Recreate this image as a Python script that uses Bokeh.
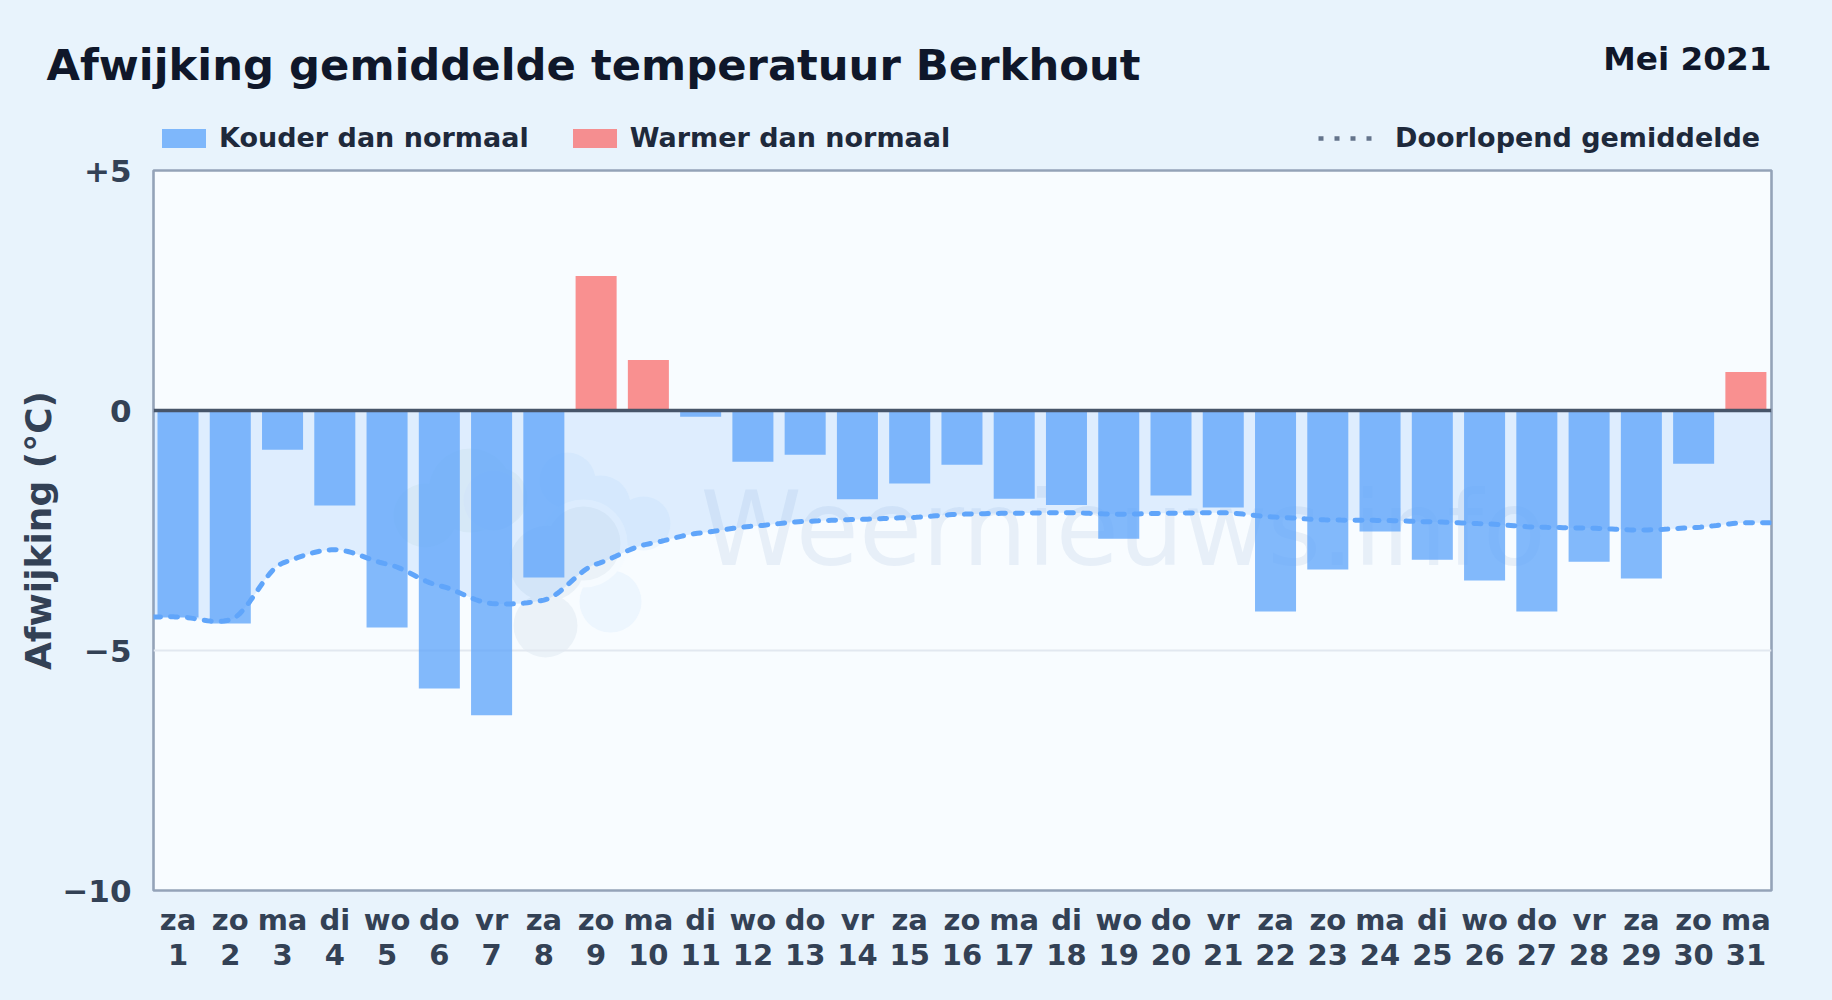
import numpy as np
from bokeh.embed import file_html
from bokeh.layouts import column
from bokeh.resources import INLINE
from bokeh.plotting import figure
from bokeh.models import (FixedTicker, Label, Legend, LegendItem, LinearAxis, Range1d, Span)

TITLE = "Afwijking gemiddelde temperatuur Berkhout"
PERIOD = "Mei 2021"
Y_LABEL = "Afwijking (°C)"
BRAND = "Weernieuws.info"
LEGEND_COLD = "Kouder dan normaal"
LEGEND_WARM = "Warmer dan normaal"
LEGEND_MEAN = "Doorlopend gemiddelde"
days = list(range(1, 32))
weekdays = ["za", "zo", "ma", "di", "wo", "do", "vr", "za", "zo", "ma", "di", "wo", "do", "vr", "za", "zo",
            "ma", "di", "wo", "do", "vr", "za", "zo", "ma", "di", "wo", "do", "vr", "za", "zo", "ma"]
deviation = [-4.31, -4.44, -0.82, -1.98, -4.52, -5.79, -6.35, -3.48, 2.80, 1.05, -0.13, -1.07, -0.92, -1.85, -1.52,
             -1.13, -1.84, -1.97, -2.67, -1.77, -2.02, -4.19, -3.31, -2.52, -3.11, -3.54, -4.19, -3.15, -3.50, -1.11, 0.80]
running_mean = [-4.30, -4.36, -3.18, -2.90, -3.20, -3.65, -4.02, -3.95, -3.20, -2.78, -2.55, -2.41, -2.31, -2.27, -2.23,
                -2.16, -2.14, -2.13, -2.16, -2.14, -2.13, -2.22, -2.28, -2.29, -2.32, -2.36, -2.43, -2.45, -2.49, -2.44, -2.34]
y_ticks = [5, 0, -5, -10]
y_tick_labels = ["+5", "0", "\u22125", "\u221210"]

BG = "#e8f3fc"
PLOT_BG = "#f8fcff"
COLD, WARM = "#60a5fa", "#f87171"
BAR_ALPHA = 0.78
FONT = "DejaVu Sans"
W, HEAD_H = 1832, 153
H = 1000 - HEAD_H
LEFT, RIGHT, TOP, BOTTOM = 153, 61, 17, 110
X0, X1 = 0.531, 31.49
Y0, Y1 = -10, 5

# ---------- header: titles and legends ----------
head = figure(width=W, height=HEAD_H, output_backend="svg", toolbar_location=None,
              x_range=Range1d(0, 1), y_range=Range1d(0, 1), x_axis_type=None, y_axis_type=None)
head.min_border_left = head.min_border_right = head.min_border_top = head.min_border_bottom = 0
head.background_fill_color = BG
head.border_fill_color = BG
head.outline_line_color = None
key_cold = head.vbar([0.5], width=0.1, bottom=[np.nan], top=[np.nan], fill_color=COLD, fill_alpha=BAR_ALPHA, line_color=None)
key_warm = head.vbar([0.5], width=0.1, bottom=[np.nan], top=[np.nan], fill_color=WARM, fill_alpha=BAR_ALPHA, line_color=None)
key_mean = head.line([0.1, 0.2], [np.nan, np.nan], line_color="#64748b", line_width=4.5, line_dash="5 11")
common = dict(orientation="horizontal", padding=0, margin=0, border_line_color=None, background_fill_alpha=0,
              label_text_font=FONT, label_text_font_style="bold", label_text_font_size="27px",
              label_text_color="#1e293b", glyph_height=24, label_height=19)
head.add_layout(Legend(items=[LegendItem(label=LEGEND_COLD, renderers=[key_cold]),
                              LegendItem(label=LEGEND_WARM, renderers=[key_warm])],
                       location=(156, 0), glyph_width=55, spacing=38, label_standoff=8, **common))
head.add_layout(Legend(items=[LegendItem(label=LEGEND_MEAN, renderers=[key_mean])],
                       location=(1318, 0), glyph_width=55, spacing=0, label_standoff=22, **common))
head.add_layout(Label(x=46, y=64, x_units="canvas", y_units="canvas", text=TITLE, text_font=FONT,
                      text_font_style="bold", text_font_size="43.3px", text_color="#0f172a", text_baseline="alphabetic"))
head.add_layout(Label(x=1771, y=58.5, x_units="canvas", y_units="canvas", text=PERIOD, text_font=FONT,
                      text_font_style="bold", text_font_size="32.7px", text_color="#0f172a", text_align="right",
                      text_baseline="alphabetic"))

# ---------- chart ----------
p = figure(width=W, height=H, output_backend="svg", toolbar_location=None,
           x_range=Range1d(X0, X1), y_range=Range1d(Y0, Y1), x_axis_location=None, y_axis_location="left")
p.min_border_left, p.min_border_right, p.min_border_top, p.min_border_bottom = LEFT, RIGHT, TOP, BOTTOM
p.background_fill_color = PLOT_BG
p.border_fill_color = BG
p.outline_line_color = "#94a3b8"
p.outline_line_width = 2.6
p.xgrid.visible = False
p.ygrid.grid_line_color = "#e2e8f0"
p.ygrid.grid_line_width = 2
p.ygrid.ticker = FixedTicker(ticks=y_ticks)

# the header must keep its frame over the full width, not aligned with the chart's frame
for fig in (head, p):
    if "frame_align" in fig.properties():
        fig.frame_align = False

ya = p.yaxis[0]
ya.ticker = FixedTicker(ticks=y_ticks)
ya.major_label_overrides = dict(zip(y_ticks, y_tick_labels))
ya.axis_line_color = None
ya.major_tick_line_color = None
ya.minor_tick_line_color = None
ya.major_tick_out = 0
ya.major_tick_in = 0
ya.major_label_standoff = 22
ya.major_label_text_font = FONT
ya.major_label_text_font_style = "bold"
ya.major_label_text_font_size = "31px"
ya.major_label_text_color = "#334155"
ya.axis_label = Y_LABEL
ya.axis_label_text_font = FONT
ya.axis_label_text_font_style = "bold"
ya.axis_label_text_font_size = "36px"
ya.axis_label_text_color = "#334155"
ya.axis_label_standoff = 0

# two x axes stacked: weekday and day number
for labels, standoff in ((weekdays, 12), ([str(d) for d in days], 4)):
    ax = LinearAxis(ticker=FixedTicker(ticks=days), major_label_overrides=dict(zip(days, labels)))
    ax.axis_line_color = None
    ax.major_tick_line_color = None
    ax.minor_tick_line_color = None
    ax.major_tick_out = 0
    ax.major_tick_in = 0
    ax.major_label_standoff = standoff
    ax.major_label_text_font = FONT
    ax.major_label_text_font_style = "bold"
    ax.major_label_text_font_size = "29px"
    ax.major_label_text_color = "#334155"
    p.add_layout(ax, "below")

# watermark, behind everything (page pixel -> data helpers)
fx = lambda px: X0 + (px - LEFT) / (W - LEFT - RIGHT) * (X1 - X0)
fy = lambda py: Y1 - (py - HEAD_H - TOP) / (H - TOP - BOTTOM) * (Y1 - Y0)
logo = [
    ("#eef6f7", [(425, 515, 32), (470, 490, 42), (497, 497, 30)]),
    ("#edf6fe", [(567, 480, 28), (600, 505, 30), (643, 523, 27), (610, 601, 31)]),
    ("#f6fbff", [(583, 543, 44)]),
    ("#ebf2f8", [(583, 543, 37), (547, 563, 38), (545, 625, 32), (493, 500, 30)]),
]
for colour, blobs in logo:
    p.scatter([fx(b[0]) for b in blobs], [fy(b[1]) for b in blobs], size=[2 * b[2] for b in blobs],
              fill_color=colour, line_color=None, level="image")
p.add_layout(Label(x=700, y=529 - HEAD_H, x_units="canvas", y_units="canvas", text=BRAND, level="image",
                   text_font=FONT, text_font_size="102.5px", text_color="#648cbe", text_alpha=0.11,
                   text_baseline="alphabetic"))


def smooth(xs, ys, n=16):
    xs, ys = np.asarray(xs, float), np.asarray(ys, float)
    m = np.gradient(ys, xs) * 0.55
    out_x, out_y = [], []
    for i in range(len(xs) - 1):
        h = xs[i + 1] - xs[i]
        t = np.linspace(0, 1, n, endpoint=False)
        out_x.append(xs[i] + t * h)
        out_y.append((2*t**3 - 3*t**2 + 1) * ys[i] + (t**3 - 2*t**2 + t) * h * m[i]
                     + (-2*t**3 + 3*t**2) * ys[i + 1] + (t**3 - t**2) * h * m[i + 1])
    return np.append(np.concatenate(out_x), xs[-1]), np.append(np.concatenate(out_y), ys[-1])


lx, ly = smooth([X0] + days + [X1], [running_mean[0]] + running_mean + [running_mean[-1]])
p.varea(lx, ly, np.zeros_like(ly), fill_color=COLD, fill_alpha=0.17)

neg = [(d, v) for d, v in zip(days, deviation) if v < 0]
pos = [(d, v) for d, v in zip(days, deviation) if v >= 0]
bar_w = 0.785
p.vbar([d for d, _ in neg], width=bar_w, top=0, bottom=[v for _, v in neg],
       fill_color=COLD, fill_alpha=BAR_ALPHA, line_color=None)
p.vbar([d for d, _ in pos], width=bar_w, bottom=0, top=[v for _, v in pos],
       fill_color=WARM, fill_alpha=BAR_ALPHA, line_color=None)
p.line(lx, ly, line_color=COLD, line_width=5, line_dash="7 10", line_cap="round")
p.add_layout(Span(location=0, dimension="width", line_color="#475569", line_width=3.4, level="overlay"))

page = column(head, p, spacing=0)
html = file_html(page, INLINE)
html = html.replace("<head>", "<head><style>html,body{background:%s}</style>" % BG, 1)
open("out.html", "w").write(html)
